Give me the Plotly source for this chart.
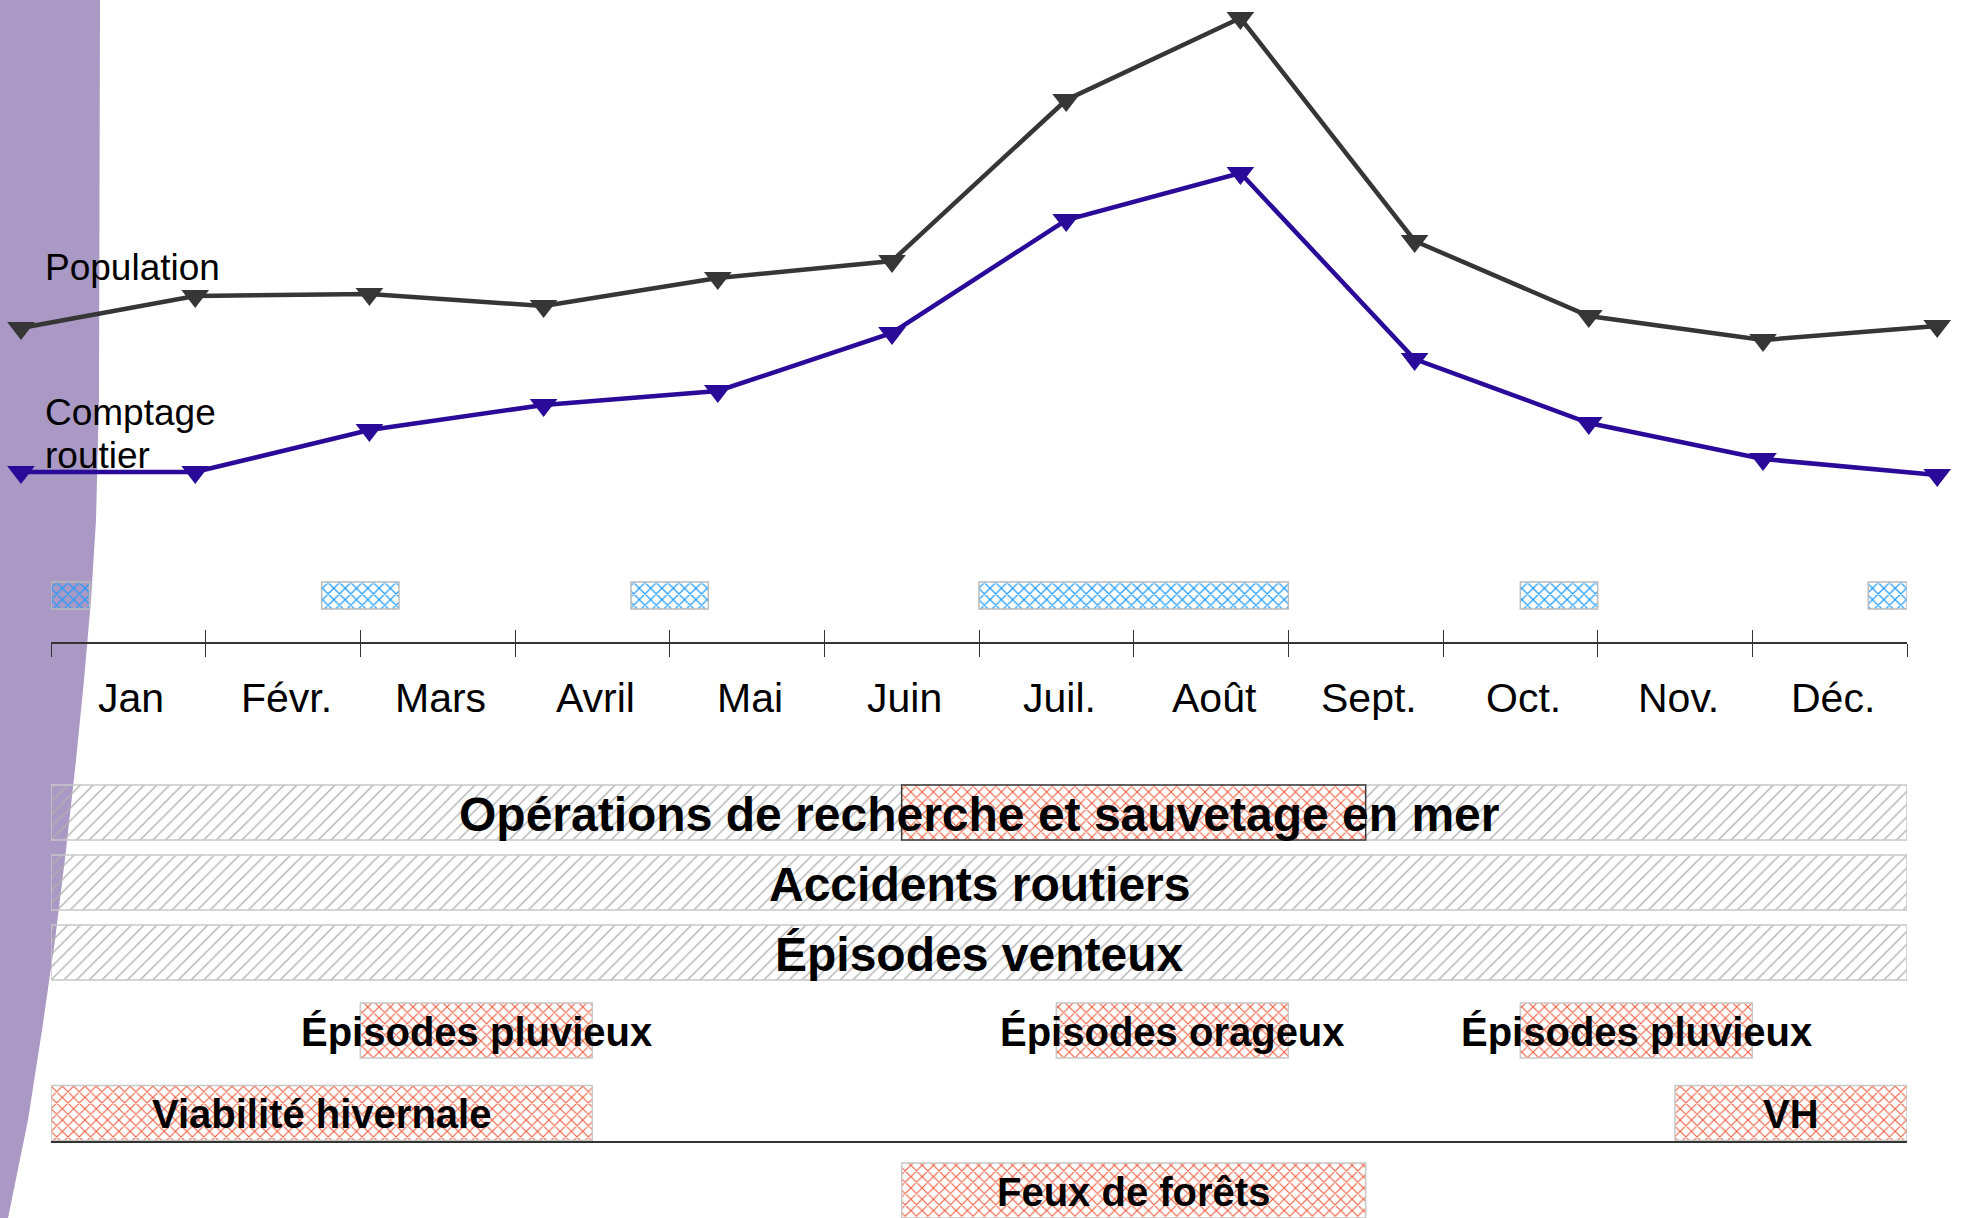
import plotly.graph_objects as go

# ---------------- data ----------------
months = ["Jan", "Févr.", "Mars", "Avril", "Mai", "Juin", "Juil.", "Août", "Sept.", "Oct.", "Nov.", "Déc."]
# relative seasonal indices (arbitrary units)
population = [86, 102, 103, 97, 111, 119.5, 200, 241, 129.5, 92, 80, 87]
comptage_routier = [14, 14, 35, 47.5, 54.5, 83.5, 140, 163.5, 70.5, 38.5, 20.5, 12.5]

# school holiday periods (in months from 1 Jan)
holiday_start = [0.0, 1.75, 3.75, 6.0, 9.5, 11.75]
holiday_end = [0.25, 2.25, 4.25, 8.0, 10.0, 12.0]

# year-round risks
yearly_risks = ["Opérations de recherche et sauvetage en mer", "Accidents routiers", "Épisodes venteux"]
# summer peak of sea rescue operations
sar_peak_start = [5.5]
sar_peak_end = [8.5]

# seasonal risks
seasonal_labels = ["Épisodes pluvieux", "Épisodes orageux", "Épisodes pluvieux",
                   "Viabilité hivernale", "VH", "Feux de forêts"]
seasonal_start = [2.0, 6.5, 9.5, 0.0, 10.5, 5.5]
seasonal_end = [3.5, 8.0, 11.0, 3.5, 12.0, 8.5]
seasonal_row = [3, 3, 3, 4, 4, 5]

# ---------------- layout constants ----------------
W, H = 1961, 1218
ROW_Y = [812.5, 882.5, 952.5, 1030.5, 1113, 1190.5]   # pixel centres of the rows
ROW_H = 55
HOL_Y, HOL_H = 595.5, 27
AXIS_Y = 643
LABEL_Y = 698
FONT = "Liberation Sans, Arial, sans-serif"
GRAY_LINE = "#C8C8C8"
RED = "#F0593A"
BLUE = "#1E9BFF"

fig = go.Figure()

# ---- top line chart ----
fig.add_trace(go.Scatter(
    x=months, y=population, mode="lines+markers", name="Population",
    line=dict(color="#363636", width=4.5),
    marker=dict(symbol="triangle-down", size=24, color="#363636"),
    xaxis="x", yaxis="y"))
fig.add_trace(go.Scatter(
    x=months, y=comptage_routier, mode="lines+markers", name="Comptage routier",
    line=dict(color="#2A0A98", width=4.5),
    marker=dict(symbol="triangle-down", size=24, color="#2A0A98"),
    xaxis="x", yaxis="y"))

# ---- year-round risk bars ----
fig.add_trace(go.Bar(
    orientation="h", y=[ROW_Y[i] for i in range(len(yearly_risks))],
    base=[0] * len(yearly_risks), x=[12] * len(yearly_risks),
    width=[ROW_H] * len(yearly_risks),
    marker=dict(color="rgba(0,0,0,0)", line=dict(color=GRAY_LINE, width=1.5),
                pattern=dict(shape="/", fgcolor="#B0B0B0", bgcolor="rgba(0,0,0,0)",
                             size=9, solidity=0.15, fillmode="replace")),
    xaxis="x2", yaxis="y2", hoverinfo="skip"))

# ---- sea rescue summer peak ----
fig.add_trace(go.Bar(
    orientation="h", y=[ROW_Y[0]] * len(sar_peak_start), base=sar_peak_start,
    x=[e - s for s, e in zip(sar_peak_start, sar_peak_end)], width=[ROW_H] * len(sar_peak_start),
    marker=dict(color="white", line=dict(color="#3A3A3A", width=1.5),
                pattern=dict(shape="x", fgcolor=RED, bgcolor="white", size=8,
                             solidity=0.25, fillmode="replace")),
    xaxis="x2", yaxis="y2", hoverinfo="skip"))

# ---- seasonal risks ----
fig.add_trace(go.Bar(
    orientation="h", y=[ROW_Y[r] for r in seasonal_row], base=seasonal_start,
    x=[e - s for s, e in zip(seasonal_start, seasonal_end)], width=[ROW_H] * len(seasonal_start),
    marker=dict(color="white", line=dict(color=GRAY_LINE, width=1.5),
                pattern=dict(shape="x", fgcolor=RED, bgcolor="white", size=8,
                             solidity=0.25, fillmode="replace")),
    xaxis="x2", yaxis="y2", hoverinfo="skip"))

# ---- school holidays ----
fig.add_trace(go.Bar(
    orientation="h", y=[HOL_Y] * len(holiday_start), base=holiday_start,
    x=[e - s for s, e in zip(holiday_start, holiday_end)], width=[HOL_H] * len(holiday_start),
    marker=dict(color="rgba(0,0,0,0)", line=dict(color="#BBBBBB", width=1.5),
                pattern=dict(shape="x", fgcolor=BLUE, bgcolor="rgba(0,0,0,0)", size=8,
                             solidity=0.28, fillmode="replace")),
    xaxis="x2", yaxis="y2", hoverinfo="skip"))

annotations = []
# line labels
annotations.append(dict(text="Population", xref="paper", yref="paper", x=43 / W, y=1 - 268 / H,
                        xanchor="left", yanchor="middle", showarrow=False,
                        font=dict(family=FONT, size=37, color="black")))
annotations.append(dict(text="Comptage", xref="paper", yref="paper", x=43 / W, y=1 - 413 / H,
                        xanchor="left", yanchor="middle", showarrow=False,
                        font=dict(family=FONT, size=37, color="black")))
annotations.append(dict(text="routier", xref="paper", yref="paper", x=43 / W, y=1 - 455 / H,
                        xanchor="left", yanchor="middle", showarrow=False,
                        font=dict(family=FONT, size=37, color="black")))
# month labels
for i, m in enumerate(months):
    annotations.append(dict(text=m, xref="x2", yref="y2", x=i + 0.52, y=LABEL_Y,
                            showarrow=False, yanchor="middle",
                            font=dict(family=FONT, size=41, color="black")))
# row labels
for i, lab in enumerate(yearly_risks):
    annotations.append(dict(text=lab, xref="x2", yref="y2", x=6, y=ROW_Y[i] + 2,
                            showarrow=False, yanchor="middle",
                            font=dict(family=FONT, size=48, color="black", weight=700)))
for lab, s, e, r in zip(seasonal_labels, seasonal_start, seasonal_end, seasonal_row):
    annotations.append(dict(text=lab, xref="x2", yref="y2", x=(s + e) / 2, y=ROW_Y[r] + 1,
                            showarrow=False, yanchor="middle",
                            font=dict(family=FONT, size=40, color="black", weight=700)))

# purple band on the left
edge = [(100, 0), (99, 400), (96, 520), (91, 600), (84, 680), (76, 760), (66, 850),
        (55, 940), (42, 1030), (28, 1120), (8, 1218)]
path = "M 0 1 " + " ".join(f"L {x / W:.5f} {1 - y / H:.5f}" for x, y in edge) + " L 0 0 Z"

shapes = [
    dict(type="path", path=path, xref="paper", yref="paper", fillcolor="#A999C4",
         line=dict(width=0), layer="below"),
    dict(type="line", xref="x2", yref="y2", x0=0, x1=12, y0=1142, y1=1142,
         line=dict(color="#333333", width=2), layer="above"),
]

x2_domain = [51 / W, 1907 / W]
fig.update_layout(
    width=W, height=H, margin=dict(l=0, r=0, t=0, b=0),
    paper_bgcolor="white", plot_bgcolor="rgba(0,0,0,0)",
    showlegend=False, barmode="overlay",
    xaxis=dict(domain=[0, 1], type="category", range=[-21 / 174.2, (W - 21) / 174.2],
               visible=False, fixedrange=True),
    yaxis=dict(domain=[0, 1], range=[-359, 250], visible=False, fixedrange=True),
    xaxis2=dict(domain=x2_domain, range=[0, 12], anchor="free", position=1 - AXIS_Y / H,
                showline=True, linecolor="#333333", linewidth=1.5, showgrid=False, zeroline=False,
                tickmode="array", tickvals=list(range(13)), ticks="outside", ticklen=13,
                tickwidth=1.2, tickcolor="#333333", showticklabels=False, fixedrange=True),
    xaxis3=dict(domain=x2_domain, range=[0, 12], anchor="free", position=1 - AXIS_Y / H,
                overlaying="x2", showline=False, showgrid=False, zeroline=False,
                tickmode="array", tickvals=list(range(13)), ticks="inside", ticklen=13,
                tickwidth=1.2, tickcolor="#333333", showticklabels=False, fixedrange=True),
    yaxis2=dict(domain=[0, 1], range=[H, 0], anchor="x2", overlaying="y", visible=False, fixedrange=True),
    annotations=annotations, shapes=shapes,
)
# empty trace so xaxis3 is drawn
fig.add_trace(go.Scatter(x=[None], y=[None], xaxis="x3", yaxis="y2", showlegend=False, hoverinfo="skip"))

fig.write_html("out.html", config={"displayModeBar": False},
               post_script="document.body.style.margin='0';document.body.style.overflow='hidden';")
